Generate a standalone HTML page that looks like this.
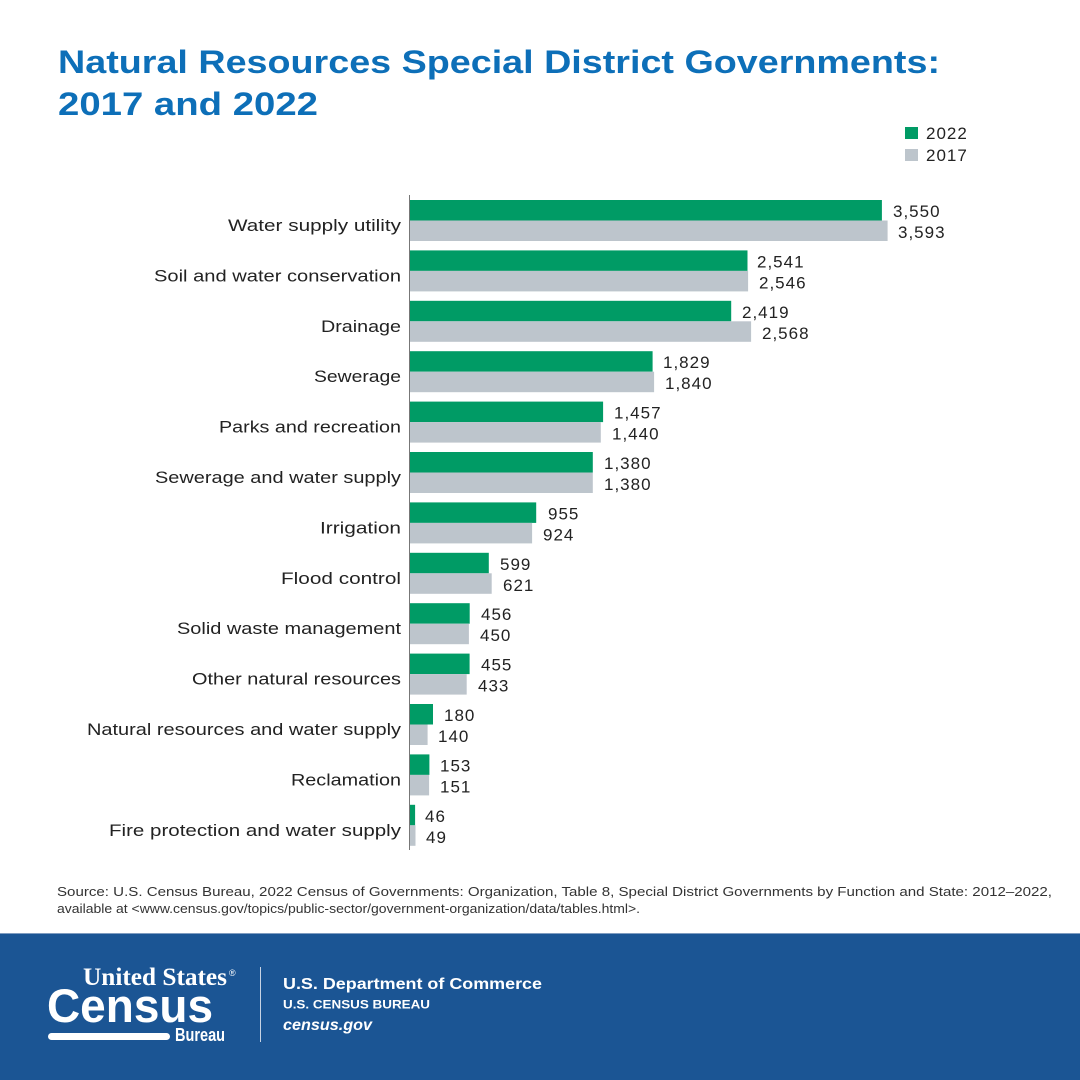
<!DOCTYPE html>
<html><head><meta charset="utf-8"><style>
html,body{margin:0;padding:0;background:#fff;}
svg{display:block;}
text{font-family:"Liberation Sans",sans-serif;}
</style></head><body>
<svg width="1080" height="1080" viewBox="0 0 1080 1080" xmlns="http://www.w3.org/2000/svg">
<rect width="1080" height="1080" fill="#fff"/>
<text x="58" y="73" font-size="32" font-weight="bold" fill="#0d6fb8" textLength="882" lengthAdjust="spacingAndGlyphs">Natural Resources Special District Governments:</text>
<text x="58" y="115" font-size="32" font-weight="bold" fill="#0d6fb8" textLength="260" lengthAdjust="spacingAndGlyphs">2017 and 2022</text>
<rect x="905" y="127" width="13" height="12" fill="#009b65"/>
<text x="926" y="139" font-size="17" fill="#222" letter-spacing="1">2022</text>
<rect x="905" y="149" width="13" height="12" fill="#bdc5cc"/>
<text x="926" y="161" font-size="17" fill="#222" letter-spacing="1">2017</text>
<g font-size="17" fill="#222">
<rect x="409" y="200" width="472.9" height="20.5" fill="#009b65"/><rect x="409" y="220.5" width="478.6" height="20.5" fill="#bdc5cc"/>
<text x="893" y="217" letter-spacing="1">3,550</text><text x="898" y="238" letter-spacing="1">3,593</text>
<text x="401" y="231" text-anchor="end" textLength="173" lengthAdjust="spacingAndGlyphs">Water supply utility</text>

<rect x="409" y="250.4" width="338.5" height="20.5" fill="#009b65"/><rect x="409" y="270.9" width="339.1" height="20.5" fill="#bdc5cc"/>
<text x="757" y="267.4" letter-spacing="1">2,541</text><text x="759" y="288.4" letter-spacing="1">2,546</text>
<text x="401" y="281.4" text-anchor="end" textLength="247" lengthAdjust="spacingAndGlyphs">Soil and water conservation</text>

<rect x="409" y="300.8" width="322.2" height="20.5" fill="#009b65"/><rect x="409" y="321.3" width="342.1" height="20.5" fill="#bdc5cc"/>
<text x="742" y="317.8" letter-spacing="1">2,419</text><text x="762" y="338.8" letter-spacing="1">2,568</text>
<text x="401" y="331.8" text-anchor="end" textLength="80" lengthAdjust="spacingAndGlyphs">Drainage</text>

<rect x="409" y="351.2" width="243.6" height="20.5" fill="#009b65"/><rect x="409" y="371.7" width="245.1" height="20.5" fill="#bdc5cc"/>
<text x="663" y="368.2" letter-spacing="1">1,829</text><text x="665" y="389.2" letter-spacing="1">1,840</text>
<text x="401" y="382.2" text-anchor="end" textLength="87" lengthAdjust="spacingAndGlyphs">Sewerage</text>

<rect x="409" y="401.6" width="194.1" height="20.5" fill="#009b65"/><rect x="409" y="422.1" width="191.8" height="20.5" fill="#bdc5cc"/>
<text x="614" y="418.6" letter-spacing="1">1,457</text><text x="612" y="439.6" letter-spacing="1">1,440</text>
<text x="401" y="432.6" text-anchor="end" textLength="182" lengthAdjust="spacingAndGlyphs">Parks and recreation</text>

<rect x="409" y="452" width="183.8" height="20.5" fill="#009b65"/><rect x="409" y="472.5" width="183.8" height="20.5" fill="#bdc5cc"/>
<text x="604" y="469" letter-spacing="1">1,380</text><text x="604" y="490" letter-spacing="1">1,380</text>
<text x="401" y="483" text-anchor="end" textLength="246" lengthAdjust="spacingAndGlyphs">Sewerage and water supply</text>

<rect x="409" y="502.4" width="127.2" height="20.5" fill="#009b65"/><rect x="409" y="522.9" width="123.1" height="20.5" fill="#bdc5cc"/>
<text x="548" y="519.4" letter-spacing="1">955</text><text x="543" y="540.4" letter-spacing="1">924</text>
<text x="401" y="533.4" text-anchor="end" textLength="81" lengthAdjust="spacingAndGlyphs">Irrigation</text>

<rect x="409" y="552.8" width="79.8" height="20.5" fill="#009b65"/><rect x="409" y="573.3" width="82.7" height="20.5" fill="#bdc5cc"/>
<text x="500" y="569.8" letter-spacing="1">599</text><text x="503" y="590.8" letter-spacing="1">621</text>
<text x="401" y="583.8" text-anchor="end" textLength="120" lengthAdjust="spacingAndGlyphs">Flood control</text>

<rect x="409" y="603.2" width="60.7" height="20.5" fill="#009b65"/><rect x="409" y="623.7" width="59.9" height="20.5" fill="#bdc5cc"/>
<text x="481" y="620.2" letter-spacing="1">456</text><text x="480" y="641.2" letter-spacing="1">450</text>
<text x="401" y="634.2" text-anchor="end" textLength="224" lengthAdjust="spacingAndGlyphs">Solid waste management</text>

<rect x="409" y="653.6" width="60.6" height="20.5" fill="#009b65"/><rect x="409" y="674.1" width="57.7" height="20.5" fill="#bdc5cc"/>
<text x="481" y="670.6" letter-spacing="1">455</text><text x="478" y="691.6" letter-spacing="1">433</text>
<text x="401" y="684.6" text-anchor="end" textLength="209" lengthAdjust="spacingAndGlyphs">Other natural resources</text>

<rect x="409" y="704" width="24" height="20.5" fill="#009b65"/><rect x="409" y="724.5" width="18.6" height="20.5" fill="#bdc5cc"/>
<text x="444" y="721" letter-spacing="1">180</text><text x="438" y="742" letter-spacing="1">140</text>
<text x="401" y="735" text-anchor="end" textLength="314" lengthAdjust="spacingAndGlyphs">Natural resources and water supply</text>

<rect x="409" y="754.4" width="20.4" height="20.5" fill="#009b65"/><rect x="409" y="774.9" width="20.1" height="20.5" fill="#bdc5cc"/>
<text x="440" y="771.4" letter-spacing="1">153</text><text x="440" y="792.4" letter-spacing="1">151</text>
<text x="401" y="785.4" text-anchor="end" textLength="110" lengthAdjust="spacingAndGlyphs">Reclamation</text>

<rect x="409" y="804.8" width="6.1" height="20.5" fill="#009b65"/><rect x="409" y="825.3" width="6.5" height="20.5" fill="#bdc5cc"/>
<text x="425" y="821.8" letter-spacing="1">46</text><text x="426" y="842.8" letter-spacing="1">49</text>
<text x="401" y="835.8" text-anchor="end" textLength="292" lengthAdjust="spacingAndGlyphs">Fire protection and water supply</text>
</g>
<line x1="409.5" y1="195" x2="409.5" y2="850" stroke="#777" stroke-width="1"/>

<text x="57" y="896" font-size="12.5" fill="#333" textLength="995" lengthAdjust="spacingAndGlyphs">Source: U.S. Census Bureau, 2022 Census of Governments: Organization, Table 8, Special District Governments by Function and State: 2012–2022,</text>
<text x="57" y="913" font-size="12.5" fill="#333" textLength="583" lengthAdjust="spacingAndGlyphs">available at &lt;www.census.gov/topics/public-sector/government-organization/data/tables.html&gt;.</text>

<rect x="0" y="933" width="1080" height="147" fill="#1b5594"/>
<line x1="0" y1="933.5" x2="1080" y2="933.5" stroke="#7f9cc0" stroke-width="1"/>
<text x="83" y="985" style="font-family:'Liberation Serif',serif" font-size="25" font-weight="bold" fill="#fff" textLength="144" lengthAdjust="spacingAndGlyphs">United States</text>
<text x="229" y="976" font-size="9" fill="#fff">®</text>
<text x="47" y="1022" font-size="47" font-weight="bold" fill="#fff" textLength="166" lengthAdjust="spacingAndGlyphs">Census</text>
<rect x="48" y="1033" width="122" height="7" rx="3.5" fill="#fff"/>
<text x="175" y="1041" font-size="18" font-weight="bold" fill="#fff" textLength="50" lengthAdjust="spacingAndGlyphs">Bureau</text>
<line x1="260.5" y1="967" x2="260.5" y2="1042" stroke="#c8d3e3" stroke-width="1"/>
<text x="283" y="989" font-size="16" font-weight="bold" fill="#fff" textLength="259" lengthAdjust="spacingAndGlyphs">U.S. Department of Commerce</text>
<text x="283" y="1008.5" font-size="12" font-weight="bold" fill="#fff" textLength="147" lengthAdjust="spacingAndGlyphs">U.S. CENSUS BUREAU</text>
<text x="283" y="1030" font-size="16" font-weight="bold" font-style="italic" fill="#fff" textLength="89" lengthAdjust="spacingAndGlyphs">census.gov</text>
</svg>
</body></html>
